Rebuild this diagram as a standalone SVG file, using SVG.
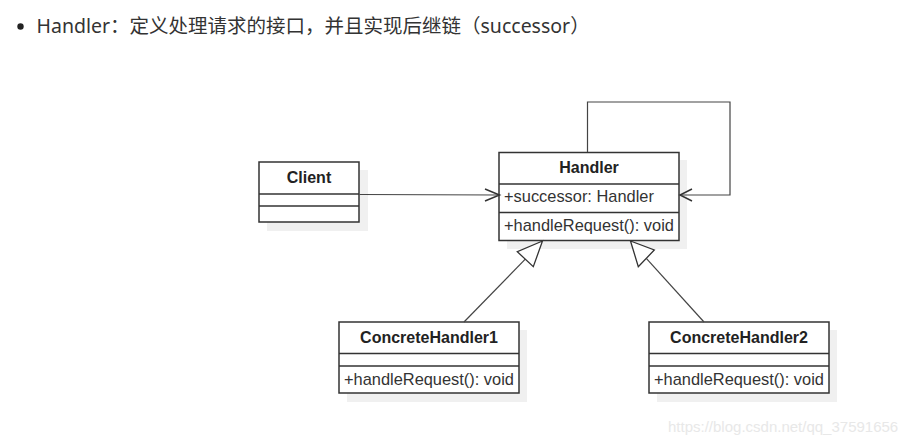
<svg xmlns="http://www.w3.org/2000/svg" width="920" height="446" viewBox="0 0 920 446">
<style>
.box{fill:#fff;stroke:#333;stroke-width:1.5}
.shadow{fill:#f0f0f0}
.div{stroke:#333;stroke-width:1.5}
.t{font-family:"Liberation Sans",Arial,sans-serif;font-weight:bold;font-size:16px;fill:#222;text-anchor:middle}
.m{font-family:"Liberation Sans",Arial,sans-serif;font-size:16.4px;fill:#333}
.edge{fill:none;stroke:#444;stroke-width:1.2}
.open{fill:none;stroke:#333;stroke-width:1.5}
.tri{fill:#fff;stroke:#333;stroke-width:1.3;stroke-linejoin:miter}
</style>
<rect width="920" height="446" fill="#fff"/>
<circle cx="20.5" cy="26.5" r="3.2" fill="#222"/>
<text x="36.5" y="33" font-family="'Noto Sans','Noto Sans CJK SC',sans-serif" font-size="19.5" fill="#333">Handler：定义处理请求的接口，并且实现后继链（successor）</text>

<g id="client">
<rect class="shadow" x="267" y="170" width="101" height="61"/>
<rect class="box" x="259" y="162" width="100" height="60"/>
<line class="div" x1="259" y1="194" x2="359" y2="194"/>
<line class="div" x1="259" y1="206" x2="359" y2="206"/>
<text class="t" x="309" y="183">Client</text>
</g>

<g id="handler">
<rect class="shadow" x="507" y="160" width="180" height="89"/>
<rect class="box" x="499" y="152.5" width="180" height="88"/>
<line class="div" x1="499" y1="184" x2="679" y2="184"/>
<line class="div" x1="499" y1="212.5" x2="679" y2="212.5"/>
<text class="t" x="589" y="173">Handler</text>
<text class="m" x="504" y="202">+successor: Handler</text>
<text class="m" x="504" y="231">+handleRequest(): void</text>
</g>

<g id="concreteHandler1">
<rect class="shadow" x="347" y="330" width="180" height="72"/>
<rect class="box" x="339" y="322" width="180" height="71"/>
<line class="div" x1="339" y1="353.5" x2="519" y2="353.5"/>
<line class="div" x1="339" y1="366" x2="519" y2="366"/>
<text class="t" x="429" y="343">ConcreteHandler1</text>
<text class="m" x="344" y="385">+handleRequest(): void</text>
</g>

<g id="concreteHandler2">
<rect class="shadow" x="657" y="330" width="180" height="72"/>
<rect class="box" x="649" y="322" width="180" height="71"/>
<line class="div" x1="649" y1="353.5" x2="829" y2="353.5"/>
<line class="div" x1="649" y1="366" x2="829" y2="366"/>
<text class="t" x="739" y="343">ConcreteHandler2</text>
<text class="m" x="654" y="385">+handleRequest(): void</text>
</g>

<g id="connectors">
<path class="edge" d="M359.5,194.5 L499,195"/>
<path class="open" d="M485,189 L499.5,195 L485,201"/>
<path class="edge" d="M587.5,152 L587.5,102 L730,102 L730,195 L680,195"/>
<path class="open" d="M692,189 L680,195 L692,201"/>
<path class="edge" d="M464,322 L525.3,259.2"/>
<path class="tri" d="M542.5,241 L517.3,251.7 L533.3,266.7 Z"/>
<path class="edge" d="M704,322 L646.3,258.3"/>
<path class="tri" d="M630.5,241 L654.3,250 L638.3,266.7 Z"/>
</g>

<text x="668" y="432" font-family="'Liberation Sans',Arial,sans-serif" font-size="15" fill="#e8e8e8">https://blog.csdn.net/qq_37591656</text>
</svg>
